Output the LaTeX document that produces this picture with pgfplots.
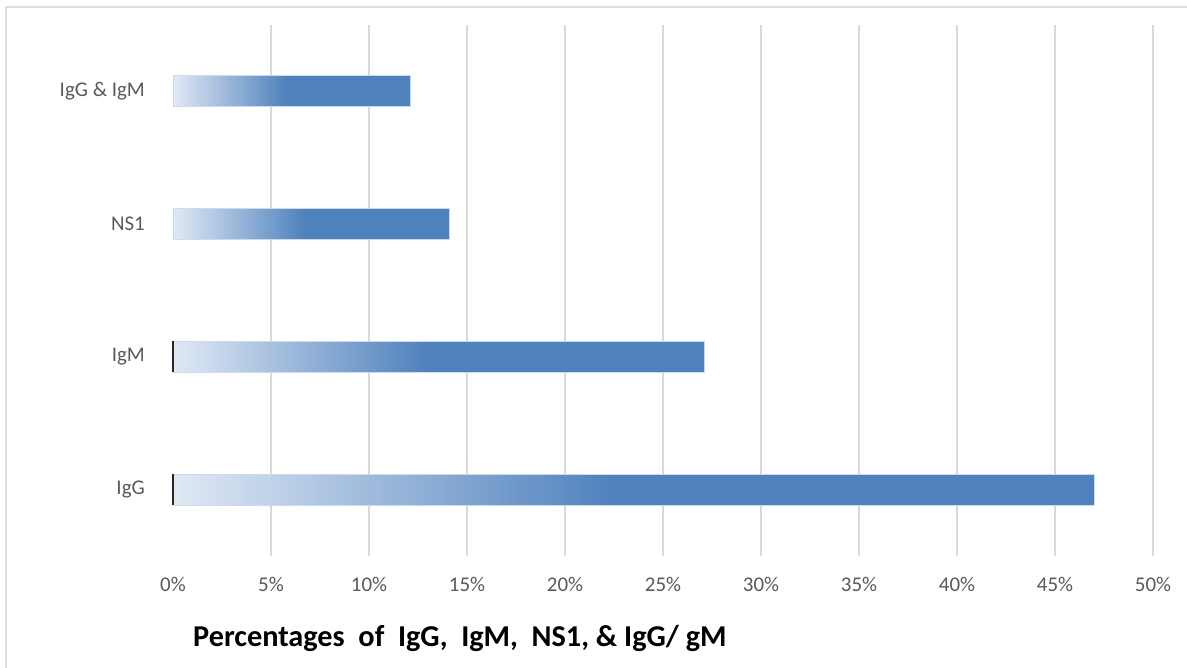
\documentclass[border=0pt]{standalone}
\usepackage{pgfplots}
\pgfplotsset{compat=1.18}
\usepackage{fontspec}
\setmainfont{Carlito}

\definecolor{barblue}{RGB}{79,129,189}
\definecolor{barlight}{RGB}{224,233,245}
\definecolor{baredge}{RGB}{205,218,236}
\definecolor{gridgray}{RGB}{217,217,217}
\definecolor{framegray}{RGB}{222,222,222}
\definecolor{labelgray}{RGB}{89,89,89}

% light-to-blue fade over the left half of each bar, solid blue beyond
\pgfdeclarehorizontalshading{barfade}{100bp}{%
  color(0bp)=(barlight); color(25bp)=(barlight);
  color(49bp)=(barblue); color(100bp)=(barblue)}

\pgfplotsset{fadebar/.style={xbar, bar shift=0pt, bar width=0.235,
    draw=baredge, line width=1bp, shading=barfade, mark=none}}

\begin{document}
\begin{tikzpicture}[x=1bp,y=1bp]
\useasboundingbox (0,0) rectangle (1187,668);
\draw[framegray, line width=2bp] (6,0) -- (6,661) -- (1187,661);
\begin{axis}[
  at={(173bp,112bp)}, anchor=south west,
  scale only axis, width=980bp, height=531bp,
  xmin=0, xmax=50, ymin=-0.5, ymax=3.5,
  clip=false,
  axis line style={draw=none},
  major tick length=0pt,
  xtick={5,10,...,50},
  extra x ticks={0},
  extra x tick style={grid=none},
  xmajorgrids,
  grid style={gridgray, line width=1.6bp},
  ytick={0,1,2,3},
  yticklabels={IgG,IgM,NS1,IgG \& IgM},
  xticklabel={\pgfmathprintnumber{\tick}\%},
  /pgf/number format/assume math mode=true,
  tick label style={font=\fontsize{21}{25}\selectfont, text=labelgray},
  xticklabel style={anchor=north, inner sep=0pt, yshift=-21bp},
  yticklabel style={anchor=east, inner sep=0pt, xshift=-28bp},
]
% one plot per bar so that each bar carries its own fade
\addplot[fadebar] coordinates {(47.0,0)};
\addplot[fadebar] coordinates {(27.1,1)};
\addplot[fadebar] coordinates {(14.1,2)};
\addplot[fadebar] coordinates {(12.1,3)};
% dark base marks at the start of the two lower bars
\addplot[black!85, line width=2.5bp, mark=none] coordinates {(0,-0.117) (0,0.117)};
\addplot[black!85, line width=2.5bp, mark=none] coordinates {(0,0.883) (0,1.117)};
\end{axis}
\node[anchor=base west, inner sep=0pt, font=\fontsize{30.4}{34}\selectfont\bfseries]
  at (193,21) {Percentages\ \ of\ \ IgG,\ \ IgM,\ \ NS1, \& IgG/ gM};
\end{tikzpicture}
\end{document}
